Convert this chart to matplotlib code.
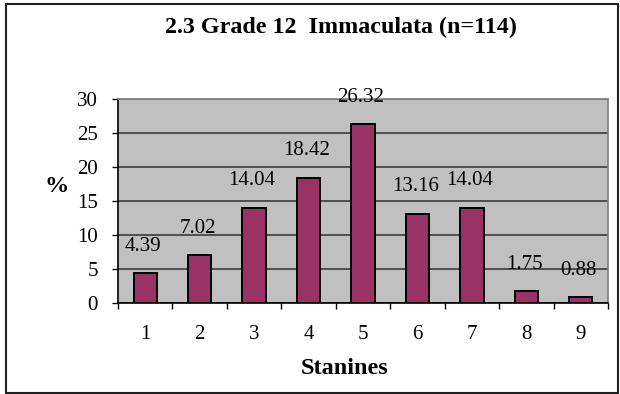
import matplotlib
matplotlib.use("Agg")
import matplotlib.pyplot as plt
from matplotlib.patches import Rectangle
import numpy as np

# data
stanines = [1, 2, 3, 4, 5, 6, 7, 8, 9]
percent = [4.39, 7.02, 14.04, 18.42, 26.32, 13.16, 14.04, 1.75, 0.88]
label_text = ["4.39", "7.02", "14.04", "18.42", "26.32", "13.16", "14.04", "1.75", "0.88"]

plt.rcParams["font.family"] = ["Liberation Serif", "DejaVu Serif"]

fig = plt.figure(figsize=(6.2, 3.94), dpi=100)
# outer chart border
fig.patches.append(Rectangle((6 / 620, 1.5 / 394), 612 / 620, 388.5 / 394,
                             transform=fig.transFigure, fill=False,
                             edgecolor="#202020", linewidth=1.5))

ax = fig.add_axes([118 / 620, 1 - 303 / 394, 490 / 620, 204 / 394])
ax.set_facecolor("#C0C0C0")

x = np.arange(len(stanines))
ax.bar(x, percent, width=0.43, color="#993366", edgecolor="black", linewidth=1.4, zorder=3)

# value labels sit ~27 px above each bar top
for xi, v, txt in zip(x, percent, label_text):
    ax.annotate(txt, (xi, v), xytext=(-1.5, 27 * 0.72), textcoords="offset points",
                ha="center", va="center", fontsize=15, zorder=4)

ax.set_xlim(-0.5, len(stanines) - 0.5)
ax.set_ylim(0, 30)
ax.set_yticks(range(0, 31, 5))
ax.yaxis.grid(True, color="#303030", linewidth=1.1, zorder=0)
ax.set_axisbelow(True)

ax.set_xticks(np.arange(-0.5, len(stanines), 1.0))
ax.set_xticklabels([])
ax.set_xticks(x, minor=True)
ax.set_xticklabels([str(s) for s in stanines], minor=True, fontsize=15)
ax.tick_params(axis="x", which="minor", length=0, pad=16)
ax.tick_params(axis="x", which="major", length=4.5, direction="out", width=1)
ax.tick_params(axis="y", length=4.5, direction="out", width=1, labelsize=15, pad=10)

for side in ["top", "right"]:
    ax.spines[side].set_color("#808080")
    ax.spines[side].set_linewidth(1.2)
ax.spines["left"].set_linewidth(1.2)
ax.spines["bottom"].set_linewidth(1.2)

fig.text(345 / 620, 1 - 368 / 394, "Stanines", fontsize=17.5, fontweight="bold",
         ha="center", va="center")
fig.text(57 / 620, 1 - 186 / 394, "%", fontsize=17.5, fontweight="bold", ha="center", va="center")
fig.text(341 / 620, 1 - 27 / 394, "2.3 Grade 12  Immaculata (n=114)", fontsize=17.3,
         fontweight="bold", ha="center", va="center")

fig.savefig("out.png", dpi=100)
